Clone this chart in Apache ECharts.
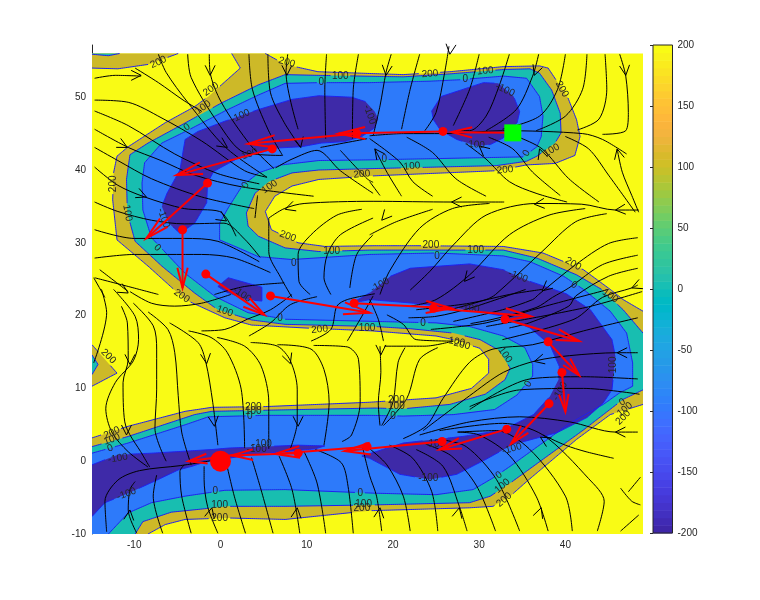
<!DOCTYPE html>
<html><head><meta charset="utf-8">
<script src="https://cdn.jsdelivr.net/npm/echarts@6/dist/echarts.min.js"></script>
<style>html,body{margin:0;background:#fff}#c{width:760px;height:600px}</style></head>
<body><div id="c"></div>
<script>
const xLeft=-14.9,xRight=49,yTop=56,yBot=-10,yAxisTop=57.17;
const xTicks=[-10,0,10,20,30,40];
const yTicks=[-10,0,10,20,30,40,50];

const frame=[[xLeft,yTop],[xRight,yTop],[xRight,yBot],[xLeft,yBot]];
const level200=[[1.3,56],[2.3,54],[-1.4,50.1],[-3,48.7],[-6.4,46.5],[-10.7,43.2],[-12,41.9],[-12.4,39.6],[-12.5,35.9],[-12,30.4],[-8.4,26.8],[-4.1,22.2],[0.5,19.7],[3.6,18.7],[9.8,18.3],[17.6,17.9],[25,17.2],[27,16.7],[30.1,15.5],[31.1,14],[31.1,12.1],[29.1,10],[25,8.7],[17.3,8.1],[5.2,7.5],[-1,7.4],[-4.1,6.85],[-10.7,4.8],[-14.9,3.2],[-14.9,-10],[-8.4,-10],[-6.4,-8.7],[-4.1,-8],[0.9,-7.8],[7.5,-8],[17.3,-6.8],[28.9,-6.4],[31.6,-6.2],[33.6,-4.8],[35.5,-2.8],[41.3,3],[45.2,6.4],[49,7.8],[49,20.6],[46.7,22.2],[45.2,23.6],[42.1,26.3],[37.4,28.6],[32.8,29.5],[22.8,29.6],[17.9,29.6],[12.1,29.5],[9,30],[5.9,31.8],[5.2,34.3],[6.3,36.4],[8.3,37.8],[11.4,38.7],[17.9,39.2],[32,39.9],[35.5,40.7],[38.8,40.9],[41.1,42],[41.7,44.6],[41.3,46.9],[40.3,49.9],[38,54],[37,54.3],[32.8,54.2],[26.6,53.5],[21.2,53.1],[11.3,53.5],[7.5,54.5],[5.2,56]];
const level200Corner=[[-14.9,56],[-4.9,56],[-8.4,54.5],[-11.9,53.9],[-14.9,54]];
const level200Blob=[[-14.9,16],[-12,12.1],[-14.9,10.3]];
const level100=[[7.5,53.1],[4.4,51.7],[0.1,49.2],[-4.5,46.2],[-8.4,43.7],[-10.5,42.1],[-10.9,38.7],[-10.8,34.1],[-9.9,30.2],[-6.8,26.8],[-3,23.1],[-0.3,20.8],[3.6,19.4],[7.5,18.8],[17.9,18.5],[22,18.2],[27,17.6],[30.1,16.7],[32.2,15.3],[33.6,12.8],[33,11.2],[30.7,9.2],[26.6,7.8],[21.2,7.2],[17.9,7.3],[5.2,7],[-1,6.85],[-3,6.4],[-10.7,3.4],[-14.9,2],[-14.9,-10],[-9.9,-10],[-9,-8.3],[-5.7,-7],[0.9,-6.2],[7.5,-6.2],[17.9,-6],[28.9,-5.7],[31.3,-4.8],[33.6,-3],[42.1,4.3],[46.7,8.5],[49,9.8],[49,17.6],[46.7,20.8],[44.2,23.6],[41.3,25.6],[36.7,27.9],[32.8,29],[17.3,29],[11.4,28.8],[7.5,29.3],[4.4,30.9],[3.2,32.3],[3,34.1],[4,36.8],[5.6,38.4],[8.3,39.6],[11.4,40],[17.9,40.2],[32,40.6],[35.5,41.2],[36.7,41.9],[38.8,43.7],[39.5,45.1],[39.4,47.8],[38.4,51],[37,53.3],[35.9,53.9],[32.8,53.8],[26.6,53.2],[21.2,52.8],[11.4,53]];
const level100Corner=[[-14.9,56],[-11.7,56],[-13,55.7],[-14.9,55.9]];
const level100Blob=[[-14.9,14.6],[-14.2,13.3],[-14.9,11.9]];
const level0=[[7.5,51.9],[4.4,50.3],[0.5,48.1],[-3.7,45.5],[-6.8,43.7],[-8.8,41],[-9.1,38.2],[-9,34.5],[-8,30.7],[-4.1,25.8],[-0.6,22.6],[3.2,20.4],[7.5,19.5],[17.9,19.2],[25,19],[28.9,18.5],[32.8,17.2],[35.3,15.6],[36.2,13.3],[36.2,11.7],[34.4,9.1],[31.8,7.1],[27,6.4],[21.2,6.2],[17.3,6.3],[5.2,6.3],[-1.4,6.1],[-4.1,5],[-10.7,2.5],[-14.9,1.1],[-14.9,-10],[-13,-10],[-10.7,-7.1],[-8,-5.7],[-4.1,-4.8],[0.5,-4],[7.5,-3.9],[17.9,-4.4],[25,-4.6],[29.3,-3.9],[31.6,-2.3],[33.6,-0.7],[40.5,5.2],[44.4,7.8],[46.3,9.4],[47.8,10.3],[47.8,13.5],[47.1,17.6],[45.2,20.6],[42.1,23.6],[39.8,25.4],[35.9,27.4],[32.8,28.2],[25,28.6],[17.3,28.4],[8.3,27.7],[4.4,28.1],[2.1,29.3],[-0.1,30.4],[-0.1,32.7],[0.9,34.8],[2.5,37.8],[4.4,39.6],[7.1,40.7],[11.4,41.3],[17.9,41.4],[35.1,41.8],[36.7,43.2],[37.2,44.6],[37.4,47.4],[37,50.1],[35.5,52.6],[32.8,52.9],[27.8,52.4],[24.3,52.2],[17.3,52],[11.4,52]];
const levelM100A=[[16.8,49.4],[15.2,50],[11.4,50.2],[8.3,49.7],[4.4,48.3],[0.5,46.7],[-2.6,45.3],[-4.1,44.2],[-4.7,40],[-6.2,36.8],[-6.8,35],[-6,32.7],[-4.7,31.3],[-3,32.7],[-1.6,35.5],[-1.5,38.2],[-0.8,39.8],[1.7,41.4],[4.4,42.3],[6.3,43],[9.4,43.2],[11.7,43.7],[14.4,43.9],[16.4,44.6],[17.9,45.8],[18.3,47],[17.9,48]];
const levelM100B=[[24.5,48.1],[25.6,50.1],[30.5,52],[32.2,51.9],[34,50.1],[34.7,48],[34.4,46.5],[32.8,44.4],[31.3,43.5],[29.7,43.3],[27.4,44.2],[25.5,45.5],[24.7,46.9]];
const levelM100C=[[-0.3,24],[0.9,25.2],[4.8,23.9],[4.8,22],[2.8,22.2],[0.9,23.1]];
const levelM100D=[[15.2,21.7],[17.3,23.1],[19.7,25.4],[22,26.5],[28.9,27.1],[32.8,26.3],[35.9,24.7],[40.1,23],[42.9,20.8],[45.4,16.7],[45.8,14.4],[45.4,9.8],[44.4,8],[42.5,6],[39,3.9],[33.9,2.3],[30.7,0.2],[27.4,-1.8],[24.3,-2.5],[20.8,-1.8],[17.3,0.4],[16.4,0.7],[21.2,2.5],[25,3],[28.1,3.4],[32.8,4.3],[36.3,6.4],[38.2,8.9],[39.2,11.2],[39.3,13],[38.2,16],[35.9,18.3],[32.8,19.9],[28.9,20.8],[22.4,21.7],[17.3,22.2]];
const levelM100E=[[-14.9,-0.5],[-11.9,0.9],[-8,1.1],[-1,1.6],[0.9,1.8],[9,2.2],[12.1,2.1],[11,1.7],[3.6,0.9],[0.9,0.4],[-1,0.2],[-3.3,-0.7],[-4.9,-1.2],[-7.2,-2.5],[-10.7,-4.4],[-13.4,-5.7],[-14.9,-7.6]];

const contourLevels=[200,200,200,100,100,100,0,-100,-100,-100,-100,-100];
const contourShapes=[level200,level200Corner,level200Blob,level100,level100Corner,level100Blob,level0,levelM100A,levelM100B,levelM100C,levelM100D,levelM100E];
const bandColors={200:'rgb(205,185,40)',100:'rgb(24,190,176)',0:'rgb(45,122,250)','-100':'rgb(62,42,168)'};

const contourLabels=[
[-7.2,54.8,'200',25],[-1.1,51.1,'200',35],[-2,48.6,'100',35],[-3.9,45.9,'0',35],[2.3,47.4,'-100',25],[7.7,54.8,'200',-15],[11.7,52.1,'0',0],[13.9,52.9,'100',0],[17.3,47.6,'-100',-70],[3.2,42.1,'-100',20],[-12.4,38.1,'200',90],[-10.8,34.1,'100',-80],[-6.6,33.4,'-100',-70],[-7.3,29.3,'0',-45],[2.9,37.9,'0',60],[5.7,37.7,'100',35],[16.4,39.4,'200',5],[7.8,30.9,'200',-20],[12.9,28.8,'100',0],[8.5,27.2,'0',0],[-4.5,22.7,'200',-35],[2.5,22.9,'-100',-35],[0.5,20.6,'100',-20],[6.9,19.7,'0',0],[11.5,18.1,'200',5],[17,18.3,'100',0],
[24.3,53.2,'200',5],[28.4,52.5,'0',0],[30.7,53.6,'100',5],[33,51,'-100',-25],[39.6,51.1,'200',-60],[29.5,43.5,'-100',-5],[35.5,42.3,'0',60],[38.4,42.7,'100',30],[22.2,40.5,'100',5],[19,41.5,'0',0],[33,40,'200',5],[24.4,29.6,'200',0],[29.6,29,'100',0],[25.1,28.2,'0',0],[40.9,27.1,'200',-30],[34.5,25.4,'-100',-20],[41,24.2,'0',-30],[45.2,22.7,'100',-35],[18.5,24.2,'-100',30],
[28.9,21,'-100',-5],[23.5,19,'0',0],[28,16,'200',-15],[27.4,16.4,'100',-10],[33,14.6,'100',-55],[35.7,10.6,'0',60],[39.4,9.6,'-100',60],[45.6,13,'-100',90],[46.6,8.1,'0',30],[46.9,7.1,'100',40],[46.7,6,'200',45],[33.8,1.7,'-100',15],[24.1,-2.4,'-100',0],[32.3,-1.9,'0',35],[32.7,-3.4,'100',40],[32.9,-5.3,'200',40],[20.4,8.4,'200',0],[20.4,7.5,'100',0],[20,6.2,'0',0],[24.9,2.3,'-100',0],
[-13,14.4,'200',-45],[-12.6,3.9,'200',25],[-12.6,3,'100',20],[-12.8,1.8,'0',20],[-11.9,0.4,'-100',10],[-10.9,-4.5,'-100',20],[3.8,7.4,'200',0],[3.8,6.9,'100',0],[3.4,6.2,'0',0],[4.8,2.3,'-100',0],[4.2,1.7,'-100',0],[-0.6,-4.1,'0',0],[-0.1,-6.1,'100',0],[-0.1,-7.8,'200',0],[16.2,-4.4,'0',0],[16.6,-5.9,'100',0],[16.4,-6.5,'200',0]];

const streamlines=[
[[-14.6,52.6],[-12.2,53],[-9.2,52.9]],
[[-9.9,54],[-7.2,52],[-4.2,49.5],[-2.2,48.1]],
[[-14.6,49.6],[-10.7,49.3],[-6.9,47.2],[-2.2,44],[2.8,39.9],[5.4,39]],
[[-14.6,48.1],[-10.7,46.1],[-5.3,42.2],[-0.3,39.5],[4.5,38.1]],
[[-14.6,45.6],[-10.7,43.1],[-6.9,41.3],[-3,39.3],[2.4,37.7],[10.8,36.4]],
[[-14.6,43.1],[-11.9,41.3],[-8,38.8],[-2.2,36.3],[3.9,34.7]],
[[-14.6,40.4],[-11.9,37.9],[-8.8,36.3],[-4.2,34.7],[-0.1,34.3],[1.8,30.9]],
[[-14.6,35.6],[-11.9,34.3],[-8,33.1],[-4.2,32.6],[0.4,32.7],[2.8,30.5],[4.6,28]],
[[-14.6,31.8],[-10,30.6],[-4.2,30.6],[-0.3,30.2],[4.5,27.4]],
[[-14.6,27.9],[-10,28.4],[-2.2,28.4],[1.6,27.9],[5.8,25.9]],
[[-14.6,25.2],[-10.7,24],[-7.2,22.9]],
[[-14.7,25.2],[-13.4,22.5]],
[[-14,26.3],[-10.7,23.3]],
[[-7.2,55.9],[-6.3,53.4],[-3.8,49.3],[0.6,43.1],[5.4,39]],
[[-3.8,55.9],[-3.4,52.7],[-0.3,46.5],[2.8,42.4],[7.2,42]],
[[-1.3,55.9],[-1.2,53.4],[0.1,49.3],[3.5,43.4],[6.2,40.2]],
[[3.3,55.9],[3.7,51.1],[5.5,45.6],[7.2,42]],
[[5.5,55.9],[5.8,50.6],[7.4,46.5],[9.3,43.1]],
[[7.8,55.9],[7.6,53.4],[9,45.6]],
[[12.3,55.9],[12.1,51.1],[12.2,44.3]],
[[16,55.9],[15.4,51.1],[15.3,44.3]],
[[-0.7,22.9],[2.8,24],[7.4,24.5]],
[[6.4,40.3],[8.3,41.5],[11.2,42.7],[13.9,39.9],[17.7,36.8]],
[[11.6,43.1],[17,44.3]],
[[13.9,42.7],[17,38.8],[17.7,38.3]],
[[4.3,36.5],[4,33.4]],
[[5.6,33.4],[7.4,34.7],[9.7,35.4],[17.7,35.7],[26.9,35.6],[32.9,35.6]],
[[5.6,33.4],[5.6,28.8],[7,25.2],[8.3,22.5]],
[[16.4,34.6],[13.5,33.8],[10.5,31.1],[9,28.4],[9.1,24.7],[10.4,22.9]],
[[17.7,33.4],[13.9,31.1],[12.4,28.4],[12,25.2],[12.8,22.9]],
[[17.7,31.1],[15.8,28.4],[15,23.8]],
[[19.8,55.9],[19.2,53.4],[18.5,48.8],[17.7,44.7]],
[[23.1,55.9],[22,51.1],[21,45.6]],
[[26.5,57],[26,53.4],[25,47.9],[23.7,45.4]],
[[30,55.9],[28.9,51.1],[27,46.1]],
[[33.5,55.9],[32.3,51.5],[30.8,47.4],[28.9,45.4],[27.2,45.4]],
[[36.9,55.9],[36.2,52.9],[34.3,48.3],[30.8,45.4]],
[[40,55.9],[39.1,51.1],[37,47.4],[32.7,45.6]],
[[42.5,55.9],[42,51.1],[40,47.4],[36.6,45.4]],
[[44.6,55.9],[44.8,51.1],[43.9,47],[41.4,45.5]],
[[46.3,55.9],[47,52.9],[47.3,47.9],[47,45.4],[44.3,44.9]],
[[17.3,44.7],[21.2,45],[26,45],[32.7,45.4],[42,45],[44.3,44.2],[47.1,42.2]],
[[40,44.6],[42.7,42.9],[45,39.3],[48.1,34.2]],
[[46,42.9],[46.6,39.7],[47.7,36.5],[48.5,34.2]],
[[34.8,44.4],[37.3,42.9],[40.4,38.8],[43.9,35.6]],
[[31.1,44.5],[33.9,42.9],[36.2,39.7],[39.4,36.5]],
[[28.5,43.6],[30.8,41.5],[33.5,38.4],[36.6,36.8],[40.2,35.6]],
[[21.6,44.5],[24.6,42.4],[27.3,38.8],[30.8,36.4]],
[[17.3,44.3],[20.8,41.1],[22.3,38.4],[24.6,36.4]],
[[17.9,42.9],[19.3,39.7],[21,36.4]],
[[17.3,38.4],[18.5,36.5]],
[[31.2,35.4],[26.9,34.7],[23.1,32],[19.6,26.1],[18.5,22.9]],
[[24.6,34.6],[20.4,32.9],[17.3,31.1]],
[[48.5,34.5],[45.8,34.5],[41.9,35.3],[36.6,35.4],[30.8,33.8],[27,29.7],[24.3,26.1],[22,23.5]],
[[42.3,34.7],[38.1,33.8],[33.5,31.1],[28.9,25.6],[25,22.2],[22,21.3]],
[[44.8,34],[41.2,32.9],[37.3,28.8],[31.9,22.9],[30.8,22.2],[26.6,20.8]],
[[48.4,30.7],[45,29.9],[41.2,27],[36.9,22.9],[36.2,22.2],[32.7,20.8],[27,19.2]],
[[48.4,28.3],[44.3,27],[40.4,23.8],[38.5,22.5],[36.6,21.1],[31.6,19.5],[29,18.9]],
[[48.4,26.5],[45,25.4],[41.2,22.7],[40.4,21.3],[35.8,19],[33.5,18.3]],
[[48.4,24.2],[47.7,23.8],[44.3,22.5],[41,19.5],[32.7,16.7]],
[[21.8,19.7],[25,19.9],[28.9,21],[35.4,23.6]],
[[22.7,20.8],[28.9,21.7],[33.5,22.9],[37.3,23.6]],
[[24.4,18.1],[30.8,19],[37.7,21.3],[45,23.6]],
[[30.8,18.5],[42.3,21.1],[48.9,23.3]],
[[17.3,22.2],[18.3,19.5],[18.9,16.5]],
[[19.3,20.1],[21.2,18.8],[22.7,16.7],[27,16.5]],
[[19,15.8],[23.7,15.8],[27,16.5]],
[[18.5,15.8],[18.6,12.2],[18.3,8],[18.5,4.9]],
[[21.4,15.6],[20.6,13.6],[20,8.1],[18.7,4.9]],
[[25.2,15.6],[23.1,14],[21.6,8.6],[18.9,4.9]],
[[48.4,19.7],[42.1,17.9],[36.2,16],[31.6,15.4],[28.9,13.6],[25.8,8.6],[23.9,4.9],[21.2,3.1]],
[[48.4,14.9],[46,14.9],[40.5,14.5],[36.6,13.8],[32.8,12.2],[28.9,9],[23.5,4.2]],
[[48.4,11.3],[42.1,11.6],[35.9,11.3],[28.9,7.1]],
[[48.6,9.2],[42.1,10],[34.7,9.8],[28.9,7.5]],
[[48.4,4],[45.8,4],[40.5,5.4],[34.7,6.1],[28.9,5.4],[23.1,3.6]],
[[45.6,0.4],[42.4,1.3],[40,2.2],[37.4,3.6]],
[[-13.8,23.6],[-13.2,20.4],[-14.7,13.5]],
[[-11.5,21.3],[-10.8,19],[-10.7,14],[-11.3,10.8],[-11.1,5.4],[-9,0.8],[-8.2,-0.8]],
[[-12.4,23.6],[-9.9,19.9],[-9.5,16.7],[-10.1,13.8],[-12.2,10.8],[-13.3,7.2],[-12.6,4],[-10.7,1.3],[-8.4,-0.8]],
[[-10.1,21.7],[-7.8,18.6],[-7.4,15.4],[-7.4,9.9],[-7.6,4.5],[-6.3,0]],
[[-8.4,20.5],[-6.1,18.1],[-5.3,14.9],[-4.9,9],[-4.5,4],[-3.4,-0.5]],
[[-5.9,19],[-2.6,16.3],[-1.7,13.6],[-0.9,8.1],[-0.3,2.2]],
[[-3.7,17.9],[-1.1,17],[0.8,14.9],[2.4,9.9],[2.8,1.8]],
[[-0.4,17],[2.8,15.8],[4.7,13.1],[5.6,8.1],[5.6,1.7]],
[[3.5,16.3],[6.6,15.8],[8.1,13.8],[8.9,9.9],[8.9,5.4],[8.1,1.7]],
[[6.6,16],[10.5,15.4],[12,12.6],[12.6,8.1],[12,2.2]],
[[10.8,15.9],[14.7,15.7],[16,14],[16.2,8.1],[15.2,3.6],[14.1,2.7]],
[[-10.5,23.3],[-8,21.7],[-5.3,21.3],[-2.2,21.7],[1.2,22.9]],
[[-2.2,17.9],[0.5,18.1],[3.1,19.5],[5.8,20.8],[8.3,22.9]],
[[3.3,17.2],[5.8,19],[8.1,21.5],[11.2,22.6]],
[[10.5,16.5],[12.8,18.1],[13.5,21.3],[14.7,22.2],[17.9,23]],
[[14.7,16.5],[16.2,19.5],[17.7,22.7]],
[[-13.2,-9.7],[-13.4,-5.5],[-11.9,-2.6],[-9.4,-1.3],[-4.6,-0.6],[-0.9,0.1]],
[[-9.7,-9.9],[-10.7,-6.7],[-10.5,-3.9],[-9.9,-2.8]],
[[-6.7,-9.9],[-7.8,-4.8],[-7.4,-1.9]],
[[-3.4,-9.9],[-4.5,-4.8],[-4.7,-1.4],[-4.2,-0.5]],
[[-0.3,-9.9],[-1.5,-6.2],[-1.9,-2.5],[-1.9,-0.7]],
[[2.9,-9.9],[1.6,-4.8],[0.5,0.7]],
[[6.1,-9.9],[4.7,-3.9],[3.6,0.5]],
[[9.2,-9.9],[8.3,-3.9],[6.8,0.7]],
[[12.2,-9.9],[11.2,-3],[9.7,1.3]],
[[15.4,-9.9],[14.8,-3.5],[14,-0.2],[11,1.6]],
[[18.7,-9.6],[18.1,-4.8],[17.3,-2],[16.5,1.8]],
[[22,-9.6],[21.2,-4.8],[19.3,-0.5],[17.3,1.7]],
[[25.2,-9.6],[24.5,-4.2],[22.3,0.4],[19.6,2.2]],
[[28.6,-9.6],[27.7,-6.2],[25.8,-0.7],[22.7,1.6]],
[[31.9,-9.6],[29.7,-3.4],[26.8,0.7],[23.9,2.3]],
[[34.7,-9.6],[32,-2.5],[28.5,2],[25.4,3]],
[[38,-9.6],[36.6,-4.8],[33.5,0.8],[30,3.6],[27.5,4]],
[[40.8,-9.6],[40,-4.8],[35.8,1.7],[32,4.2],[27.5,4]],
[[43.7,-9.6],[44.5,-5.5],[42.7,-2.4],[37.4,3.6],[32.7,5.2],[25.4,4.2]],
[[46.4,-9.6],[48.5,-7.4]],
[[46.4,-3.7],[47.7,-5.5],[48.7,-6]],
[[48.7,-2.2],[47.3,-4.2]]];

const streamArrows=[
[-1.2,53,0,-1],[-9.2,53,1,0],[-10.8,43.1,1,-0.6],[0.8,43.1,1,-0.8],[9.3,43.1,0.2,-1],[7.7,53,0,-1],[-8.6,36.3,1,-0.5],[0.7,33,1,-0.8],[7.5,34.6,-1,-0.4],[-10.7,23.1,1,-0.7],
[19.2,53,-0.1,-1],[26.6,55.9,-0.1,-1],[36.4,53,-0.3,-1],[47,53,0.1,-1],[46,42.9,-0.2,1],[37,42.9,-0.3,1],[30,43.3,-0.7,0.7],[17.9,42.9,-0.5,0.8],[26.8,35.6,-1,0],[18.7,33.1,-0.6,-0.8],[36.4,35.3,-1,-0.1],[45.8,34.5,-1,-0.1],[28.3,24.7,-0.7,-1],[37.3,23.4,-0.8,-0.8],[47.7,23.8,-1,-0.5],
[-10.5,13.3,0,-1],[-1.6,13.4,0.1,-1],[8.1,13.4,0.3,-1],[-0.7,4.8,0.1,-1],[9,4.8,0,-1],[-10.9,3.6,0,-1],[-10.5,-6.7,0.1,1],[-1,-6.4,0.2,1],[8.9,-6.4,0.1,1],
[18.6,14.6,0,-1],[18.5,-6.4,0.1,1],[27.7,-6.4,0.2,1],[37.2,-6.4,0.3,1],[45.8,4,-1,0],[46,14.9,-1,0],[36.4,13.7,-1,-0.3],[37.1,3.3,-1,0.7]];

const quiverTails=[[33.9,45.1],[25.8,45.3],[15.8,45],[6,42.9],[-1.5,38.2],[-4.4,31.8],[-1.7,25.7],[5.8,22.7],[15.5,21.7],[24.7,21],[33,19.5],[38,16.4],[39.6,12.2],[38.1,7.9],[33.2,4.4],[25.7,2.7],[17,2],[9,1.1],[1.7,0.9]];
const quiverTips=[[26.8,45.2],[13.7,45],[3.2,43.6],[-5.1,39.3],[-8.6,30.6],[-4.4,23.8],[5.1,20.1],[17.3,20.4],[26.8,21],[36,19.9],[41.6,16.5],[41.6,11.8],[40,6.8],[33.7,2.4],[25.4,1.6],[14.4,1.4],[6.3,1],[1.3,0.8],[-3.7,0]];
const trajectoryPoints=[[25.8,45.3],[15.8,45],[6,42.9],[-1.5,38.2],[-4.4,31.8],[-1.7,25.7],[5.8,22.7],[15.5,21.7],[24.7,21],[33,19.5],[38,16.4],[39.6,12.2],[38.1,7.9],[33.2,4.4],[25.7,2.7],[17,2],[9,1.1]];
const startPoint=[[33.9,45.1]];
const goalPoint=[[0,0]];

const colorbarTicks=[-200,-150,-100,-50,0,50,100,150,200];
const colorbarColors=['#3e26a8','#402aB4','#4230c0','#4433cb','#4537d5','#463cde','#4741e5','#4747eb','#474df0','#4752f4','#4758f8','#465dfb','#4563fd','#4269fe','#3e6fff','#3875fe','#327bfc','#2f81fa','#2d87f7','#2d8cf3','#2b91ef','#2796eb','#259be7','#23a0e5','#20a5e3','#1ca9df','#18adda','#11b1d6','#08b5d0','#01b7ca','#02bac3','#0bbcbb','#18bfb4','#24c0ad','#2cc3a5','#31c59c','#37c896','#3fca8e','#4acb84','#57cc7a','#64cd6f','#71cd64','#81cc59','#8fcb4e','#9dc942','#abc739','#b9c431','#c6c12a','#d1bf27','#d8ba2b','#e2b832','#ecb53a','#f4b43e','#fab43c','#feb83a','#febe37','#fec334','#fdcb30','#fcd42c','#fbdc26','#fae422','#faec1e','#f9f31a','#f9fb15'];

const chart=echarts.init(document.getElementById('c'),null,{renderer:'canvas'});

function onFrame(a,b){
  return (a[0]===xLeft&&b[0]===xLeft)||(a[0]===xRight&&b[0]===xRight)||(a[1]===yTop&&b[1]===yTop)||(a[1]===yBot&&b[1]===yBot);
}
function contourPaths(pts,level,api){
  const gaps=contourLabels.filter(l=>Number(l[2])===level).map(l=>{const p=api.coord([l[0],l[1]]);return [p[0],p[1],l[2].length*2.8+1];});
  const out=[];let cur=[];
  const flush=()=>{if(cur.length>1)out.push(cur);cur=[];};
  for(let i=0;i<pts.length;i++){
    const a=pts[i],b=pts[(i+1)%pts.length];
    if(onFrame(a,b)){flush();continue;}
    const pa=api.coord(a),pb=api.coord(b);
    const n=Math.max(1,Math.ceil(Math.hypot(pb[0]-pa[0],pb[1]-pa[1])/2));
    for(let s=0;s<=n;s++){
      const p=[pa[0]+(pb[0]-pa[0])*s/n,pa[1]+(pb[1]-pa[1])*s/n];
      if(gaps.some(g=>Math.hypot(p[0]-g[0],p[1]-g[1])<g[2]))flush();else cur.push(p);
    }
  }
  flush();
  return out;
}
function vHead(tip,dx,dy,back,half,style){
  const len=Math.hypot(dx,dy)||1,ux=dx/len,uy=dy/len;
  return {type:'polyline',shape:{points:[[tip[0]-ux*back-uy*half,tip[1]-uy*back+ux*half],tip,[tip[0]-ux*back+uy*half,tip[1]-uy*back-ux*half]]},style:style};
}
const series=[];
series.push({type:'custom',xAxisIndex:0,yAxisIndex:0,silent:true,z:1,clip:true,data:[[0]],
  renderItem:(p,api)=>({type:'polygon',shape:{points:frame.map(q=>api.coord(q))},style:{fill:'#f9fb15'}})});
series.push({type:'custom',xAxisIndex:0,yAxisIndex:0,silent:true,z:2,clip:true,data:contourShapes.map((s,i)=>[i]),
  renderItem:(p,api)=>{const i=api.value(0);return {type:'polygon',shape:{points:contourShapes[i].map(q=>api.coord(q))},style:{fill:bandColors[contourLevels[i]]}};}});
series.push({type:'custom',xAxisIndex:0,yAxisIndex:0,silent:true,z:3,clip:true,data:contourShapes.map((s,i)=>[i]),
  renderItem:(p,api)=>{const i=api.value(0);return {type:'group',children:contourPaths(contourShapes[i],contourLevels[i],api).map(path=>({type:'polyline',shape:{points:path},style:{stroke:'#1f1ff0',lineWidth:1,fill:null}}))};}});
streamlines.forEach(line=>series.push({type:'line',xAxisIndex:0,yAxisIndex:0,data:line,showSymbol:false,smooth:0.3,silent:true,z:4,clip:false,lineStyle:{color:'#000',width:1}}));
series.push({type:'custom',xAxisIndex:0,yAxisIndex:0,silent:true,z:4,clip:false,data:streamArrows.map((s,i)=>[i]),
  renderItem:(p,api)=>{const a=streamArrows[api.value(0)],t=api.coord([a[0],a[1]]),e=api.coord([a[0]+a[2],a[1]+a[3]]);
    return vHead(t,e[0]-t[0],e[1]-t[1],10,5,{stroke:'#000',lineWidth:1,fill:null});}});
series.push({type:'custom',xAxisIndex:0,yAxisIndex:0,silent:true,z:5,clip:false,data:contourLabels.map((s,i)=>[i]),
  renderItem:(p,api)=>{const l=contourLabels[api.value(0)],t=api.coord([l[0],l[1]]);
    return {type:'text',x:t[0],y:t[1],rotation:l[3]*Math.PI/180,style:{text:l[2],textAlign:'center',textVerticalAlign:'middle',fontSize:10,fontFamily:'Liberation Sans',fill:'#262626'}};}});
series.push({type:'custom',xAxisIndex:0,yAxisIndex:0,silent:true,z:6,clip:false,data:quiverTails.map((s,i)=>[i]),
  renderItem:(p,api)=>{const i=api.value(0),a=api.coord(quiverTails[i]),b=api.coord(quiverTips[i]);
    const dx=a[0]-b[0],dy=a[1]-b[1],L=Math.hypot(dx,dy);
    const st={stroke:'#ff0000',lineWidth:2,fill:null};
    return {type:'group',children:[{type:'line',shape:{x1:a[0],y1:a[1],x2:b[0],y2:b[1]},style:st},vHead(b,-dx,-dy,L*0.14+12,L*0.02+4,st)]};}});
series.push({type:'scatter',xAxisIndex:0,yAxisIndex:0,data:trajectoryPoints,symbol:'circle',symbolSize:9,silent:true,z:7,itemStyle:{color:'#ff0000',opacity:1}});
series.push({type:'scatter',xAxisIndex:0,yAxisIndex:0,data:goalPoint,symbol:'circle',symbolSize:21,silent:true,z:7,itemStyle:{color:'#ff0000',opacity:1}});
series.push({type:'scatter',xAxisIndex:0,yAxisIndex:0,data:startPoint,symbol:'rect',symbolSize:17,silent:true,z:7,itemStyle:{color:'#00ff00',opacity:1}});
const step=400/colorbarColors.length;
series.push({type:'custom',xAxisIndex:1,yAxisIndex:1,silent:true,z:2,data:colorbarColors.map((c,i)=>[i]),
  renderItem:(p,api)=>{const i=api.value(0),a=api.coord([0,-200+(i+1)*step]),b=api.coord([1,-200+i*step]);
    return {type:'rect',shape:{x:a[0],y:a[1],width:b[0]-a[0],height:b[1]-a[1]+0.5},style:{fill:colorbarColors[i]}};}});
series.push({type:'custom',xAxisIndex:1,yAxisIndex:1,silent:true,z:3,data:[[0]],
  renderItem:(p,api)=>{const a=api.coord([0,200]),b=api.coord([1,-200]);
    return {type:'rect',shape:{x:a[0],y:a[1],width:b[0]-a[0],height:b[1]-a[1]},style:{fill:null,stroke:'#262626',lineWidth:1}};}});

chart.setOption({
  animation:false,backgroundColor:'#fff',
  grid:[{left:92,top:45,width:551,height:489},{left:653,top:45,width:19.5,height:488}],
  xAxis:[
    {type:'value',gridIndex:0,min:xLeft,max:xRight,splitLine:{show:false},axisLine:{show:false},axisTick:{show:false},
     axisLabel:{customValues:xTicks,color:'#262626',fontSize:10,fontFamily:'Liberation Sans',margin:6}},
    {type:'value',gridIndex:1,min:0,max:1,show:false}],
  yAxis:[
    {type:'value',gridIndex:0,min:yBot,max:yAxisTop,splitLine:{show:false},axisLine:{show:true,onZero:false,lineStyle:{color:'#262626',width:1}},axisTick:{show:false},
     axisLabel:{customValues:yTicks,color:'#262626',fontSize:10,fontFamily:'Liberation Sans',margin:6}},
    {type:'value',gridIndex:1,min:-200,max:200,interval:50,position:'right',z:5,splitLine:{show:false},axisLine:{show:false},
     axisTick:{show:true,inside:true,length:3,lineStyle:{color:'#262626'},customValues:colorbarTicks},
     axisLabel:{customValues:colorbarTicks,color:'#262626',fontSize:10,fontFamily:'Liberation Sans',margin:5}}],
  series:series
});
</script></body></html>
